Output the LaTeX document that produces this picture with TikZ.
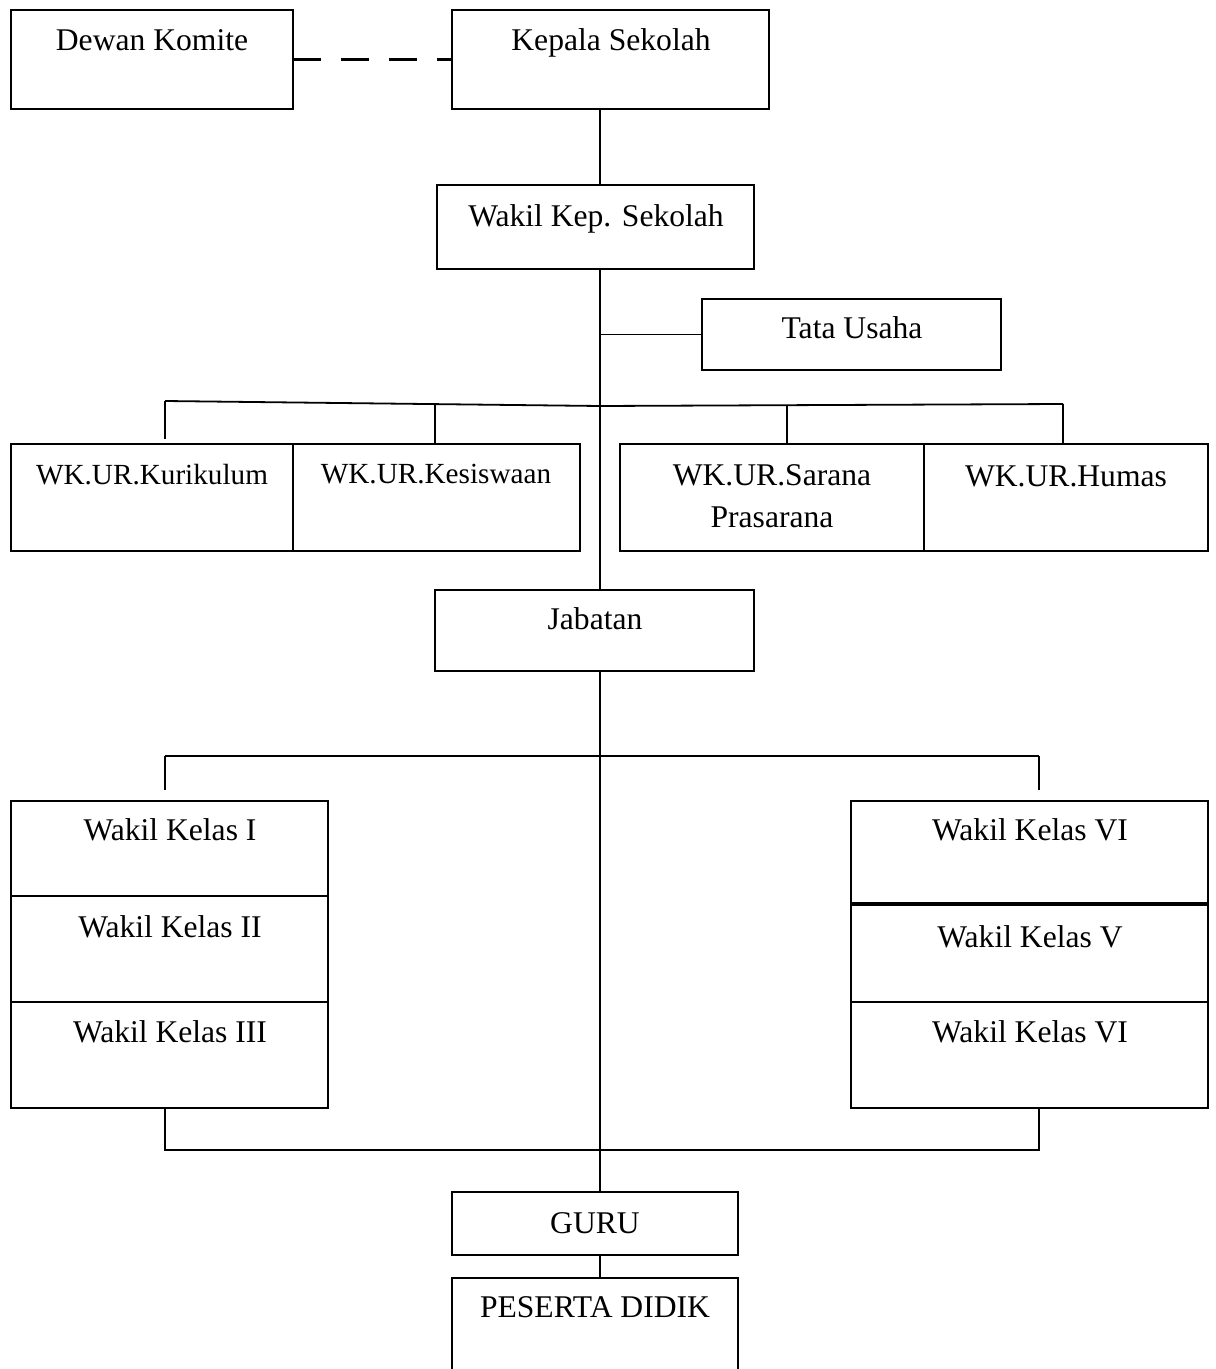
\documentclass[tikz,border=0pt]{standalone}
\usepackage{fontspec}
\setmainfont{Liberation Serif}
\usetikzlibrary{calc}
\begin{document}
\begin{tikzpicture}[x=0.5pt,y=-0.5pt,
  box/.style={draw, line width=1pt, inner sep=0pt, outer sep=0pt, anchor=north west},
  lbl/.style={anchor=base, inner sep=0pt, font=\fontsize{15.8}{19}\selectfont},
  lbls/.style={anchor=base, inner sep=0pt, font=\fontsize{14.6}{17}\selectfont},
  con/.style={line width=0.9pt}]
\clip (0,0) rectangle (1215,1369);
\fill[white] (0,0) rectangle (1215,1369);
% boxes
\node[box, minimum width=141pt, minimum height=49.5pt] (dk) at (11,10) {};
\node[box, minimum width=158.5pt, minimum height=49.5pt] (kp) at (452,10) {};
\node[box, minimum width=158.5pt, minimum height=42pt] (wk) at (437,185) {};
\node[box, minimum width=149.5pt, minimum height=35.5pt] (tu) at (702,299) {};
\node[box, minimum width=141pt, minimum height=53.5pt] (kur) at (11,444) {};
\node[box, minimum width=143.5pt, minimum height=53.5pt] (kes) at (293,444) {};
\node[box, minimum width=152pt, minimum height=53.5pt] (sar) at (620,444) {};
\node[box, minimum width=142pt, minimum height=53.5pt] (hum) at (924,444) {};
\node[box, minimum width=159.5pt, minimum height=40.5pt] (jab) at (435,590) {};
\node[box, minimum width=158.5pt, minimum height=47.5pt] (k1) at (11,801) {};
\node[box, minimum width=158.5pt, minimum height=52.75pt] (k2) at (11,896) {};
\node[box, minimum width=158.5pt, minimum height=53.25pt] (k3) at (11,1001.5) {};
\node[box, minimum width=178.5pt, minimum height=51.5pt] (k6) at (851,801) {};
\node[box, minimum width=178.5pt, minimum height=48.75pt] (k5) at (851,904) {};
\node[box, minimum width=178.5pt, minimum height=53.25pt] (k6b) at (851,1001.5) {};
\draw[line width=2pt] (k6.south west) -- (k6.south east);
\node[box, minimum width=143pt, minimum height=31.5pt] (guru) at (452,1192) {};
\node[box, minimum width=143pt, minimum height=60pt] (pd) at (452,1278) {};
% labels
\node[lbl] (tdk) at (152,51) {Dewan Komite};
\node[lbl] (tkp) at (611,51) {Kepala Sekolah};
\node[lbl] (twk) at (596,227) {Wakil Kep. Sekolah};
\node[lbl] (ttu) at (852,339) {Tata Usaha};
\node[lbls] (tkur) at (152,484) {WK.UR.Kurikulum};
\node[lbls] (tkes) at (436,483) {WK.UR.Kesiswaan};
\node[lbl] (tsar1) at (772,485) {WK.UR.Sarana};
\node[lbl] (tsar2) at (772,527) {Prasarana};
\node[lbl] (thum) at (1066,486) {WK.UR.Humas};
\node[lbl] (tjab) at (595,629) {Jabatan};
\node[lbl] (tk1) at (170,840) {Wakil Kelas I};
\node[lbl] (tk2) at (170,937) {Wakil Kelas II};
\node[lbl] (tk3) at (170,1042) {Wakil Kelas III};
\node[lbl] (tk6) at (1030,840) {Wakil Kelas VI};
\node[lbl] (tk5) at (1030,947) {Wakil Kelas V};
\node[lbl] (tk6b) at (1030,1042) {Wakil Kelas VI};
\node[lbl] (tguru) at (595,1233) {GURU};
\node[lbl] (tpd) at (595,1317) {PESERTA DIDIK};
% connector coordinates
\coordinate (tr) at (600,0);
\coordinate (hl) at (165,401);
\coordinate (hm) at (600,406);
\coordinate (hr) at (1063,404);
\coordinate (dl) at (165,439);
\coordinate (d2) at (435,405);
\coordinate (d3) at (787,405);
\coordinate (bl) at (165,756);
\coordinate (br) at (1039,756);
\coordinate (bld) at (165,790);
\coordinate (brd) at (1039,790);
\coordinate (cl) at (165,1150);
\coordinate (cr) at (1039,1150);
% connectors
\draw[line width=1.3pt, dash pattern=on 14pt off 10pt] (dk.east) -- (kp.west);
\draw[con] (kp.south -| tr) -- (wk.north -| tr);
\draw[con] (wk.south -| tr) -- (jab.north -| tr);
\draw[con] (tu.west -| tr) -- (tu.west);
\draw[con] (hl) -- (hm) -- (hr);
\draw[con] (hl) -- (dl);
\draw[con] (d2) -- (kes.north -| d2);
\draw[con] (d3) -- (sar.north -| d3);
\draw[con] (hr) -- (hum.north -| hr);
\draw[con] (jab.south -| tr) -- (guru.north -| tr);
\draw[con] (bl) -- (br);
\draw[con] (bl) -- (bld);
\draw[con] (br) -- (brd);
\draw[con] (k3.south -| cl) -- (cl) -- (cr) -- (k6b.south -| cr);
\draw[con] (guru.south -| tr) -- (pd.north -| tr);
\end{tikzpicture}
\end{document}
